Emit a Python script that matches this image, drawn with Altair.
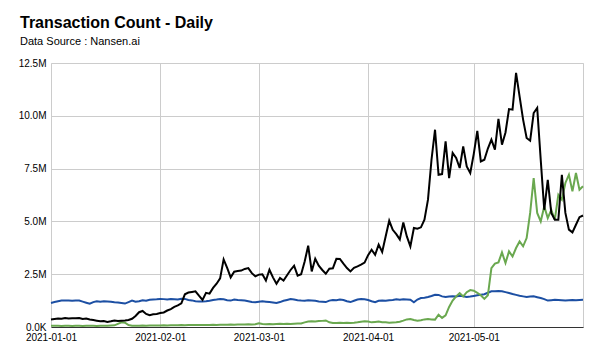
import altair as alt
import pandas as pd

# values in millions of transactions, daily from 2021-01-01
black_vals = [
    0.35, 0.38, 0.40, 0.39, 0.43, 0.40, 0.41, 0.42, 0.43, 0.38,
    0.40, 0.36, 0.33, 0.30, 0.27, 0.28, 0.24, 0.27, 0.31, 0.28,
    0.30, 0.31, 0.33, 0.39, 0.52, 0.70, 0.76, 0.62, 0.56, 0.60,
    0.62, 0.66, 0.69, 0.78, 0.85, 0.95, 1.02, 1.12, 1.55, 1.63,
    1.66, 1.69, 1.48, 1.28, 1.62, 1.58, 1.85, 2.05, 2.30, 3.20,
    2.80, 2.35, 2.62, 2.65, 2.67, 2.75, 2.79, 2.55, 2.40, 2.48,
    2.50, 2.20, 2.71, 2.35, 2.05, 2.32, 2.20, 2.45, 2.70, 2.90,
    2.43, 2.50, 3.10, 3.85, 2.63, 3.23, 2.90, 2.70, 2.52, 2.76,
    2.78, 3.23, 3.22, 3.00, 2.79, 2.63, 2.80, 2.87, 2.95, 3.05,
    3.40, 3.66, 3.42, 3.90, 3.55, 4.30, 5.03, 4.60, 4.40, 4.15,
    4.95, 4.29, 3.82, 4.69, 4.65, 4.72, 5.08, 6.03, 7.92, 9.34,
    7.21, 7.24, 8.79, 7.05, 8.24, 8.00, 7.53, 8.55, 7.60, 7.29,
    8.20, 9.29, 7.84, 7.92, 8.45, 8.87, 8.40, 9.85, 8.63, 9.21,
    10.32, 10.29, 12.03, 10.92, 9.82, 8.95, 8.82, 10.13, 10.37, 7.92,
    5.55, 6.97, 5.40, 5.08, 5.08, 7.21, 5.40, 4.61, 4.48, 4.84,
    5.20, 5.28,
]

green_vals = [
    0.06, 0.06, 0.06, 0.05, 0.06, 0.06, 0.05, 0.06, 0.06, 0.05,
    0.06, 0.06, 0.06, 0.05, 0.06, 0.06, 0.06, 0.07, 0.08, 0.15,
    0.22, 0.20, 0.09, 0.06, 0.06, 0.06, 0.07, 0.06, 0.07, 0.07,
    0.07, 0.07, 0.08, 0.07, 0.08, 0.08, 0.08, 0.09, 0.08, 0.09,
    0.09, 0.09, 0.10, 0.09, 0.10, 0.10, 0.11, 0.10, 0.11, 0.11,
    0.11, 0.12, 0.11, 0.12, 0.12, 0.12, 0.13, 0.12, 0.13, 0.18,
    0.14, 0.13, 0.14, 0.13, 0.14, 0.15, 0.14, 0.15, 0.14, 0.15,
    0.16, 0.17, 0.22, 0.26, 0.27, 0.26, 0.28, 0.29, 0.31, 0.22,
    0.19, 0.19, 0.20, 0.19, 0.20, 0.19, 0.20, 0.22, 0.25, 0.27,
    0.26, 0.22, 0.24, 0.26, 0.23, 0.22, 0.20, 0.21, 0.22, 0.25,
    0.30, 0.36, 0.38, 0.33, 0.30, 0.32, 0.36, 0.38, 0.36, 0.35,
    0.58, 0.43, 0.55, 0.95, 1.25, 1.45, 1.60, 1.45, 1.65, 1.75,
    1.72, 1.62, 1.50, 1.33, 1.50, 2.79, 3.00, 3.06, 3.53, 3.03,
    3.58, 3.34, 3.74, 4.05, 3.82, 4.21, 5.40, 7.05, 5.40, 5.00,
    5.71, 5.16, 5.55, 5.08, 6.26, 6.03, 6.82, 7.21, 6.42, 7.29,
    6.50, 6.66,
]

blue_vals = [
    1.14, 1.18, 1.22, 1.25, 1.26, 1.25, 1.24, 1.26, 1.25, 1.20,
    1.15, 1.10, 1.18, 1.22, 1.20, 1.22, 1.21, 1.20, 1.17, 1.16,
    1.14, 1.11, 1.18, 1.25, 1.20, 1.22, 1.27, 1.24, 1.29, 1.30,
    1.31, 1.33, 1.32, 1.30, 1.32, 1.31, 1.30, 1.34, 1.33, 1.28,
    1.26, 1.22, 1.21, 1.21, 1.22, 1.24, 1.28, 1.30, 1.33, 1.31,
    1.27, 1.25, 1.30, 1.28, 1.27, 1.25, 1.22, 1.18, 1.17, 1.20,
    1.22, 1.20, 1.18, 1.16, 1.14, 1.18, 1.24, 1.28, 1.32, 1.30,
    1.27, 1.25, 1.24, 1.27, 1.26, 1.24, 1.21, 1.20, 1.18, 1.25,
    1.28, 1.27, 1.30, 1.28, 1.22, 1.18, 1.24, 1.30, 1.32, 1.31,
    1.28, 1.22, 1.17, 1.24, 1.26, 1.24, 1.27, 1.28, 1.31, 1.29,
    1.31, 1.30, 1.29, 1.17, 1.30, 1.37, 1.39, 1.42, 1.47, 1.53,
    1.52, 1.45, 1.42, 1.44, 1.46, 1.45, 1.48, 1.46, 1.42, 1.44,
    1.47, 1.50, 1.53, 1.55, 1.62, 1.69, 1.69, 1.70, 1.69, 1.65,
    1.61, 1.56, 1.52, 1.48, 1.45, 1.42, 1.44, 1.45, 1.41, 1.37,
    1.32, 1.25, 1.27, 1.29, 1.28, 1.27, 1.26, 1.27, 1.28, 1.27,
    1.28, 1.29,
]

series_names = ["Series C", "Series B", "Series A"]  # blue, green, black (draw order)
series_colors = ["#1c4fa3", "#6aa84f", "#000000"]

dates = pd.date_range("2021-01-01", periods=len(black_vals)).strftime("%Y-%m-%d")

rows = []
for k, (name, vals) in enumerate(zip(series_names, [blue_vals, green_vals, black_vals])):
    for d, v in zip(dates, vals):
        rows.append({"date": d, "value": v, "series": name, "order": k})
df = pd.DataFrame(rows)

font = "Liberation Sans"

month_ticks = [alt.DateTime(year=2021, month=m, date=1, utc=True) for m in range(1, 7)]

x = alt.X(
    "date:T",
    scale=alt.Scale(
        type="utc",
        domain=[alt.DateTime(year=2021, month=1, date=1, utc=True),
                alt.DateTime(year=2021, month=6, date=1, utc=True)],
        nice=False,
    ),
    axis=alt.Axis(
        title=None,
        values=month_ticks,
        labelExpr="utcmonth(datum.value) == 5 ? '' : utcFormat(datum.value, '%Y-%m-%d')",
        grid=True,
        gridColor="#cccccc",
        ticks=False,
        tickSize=0,
        labelPadding=5,
        domainColor="#333333",
        labelFont=font,
        labelFontSize=10,
        labelColor="#000000",
        labelAlign="center",
    ),
)

y = alt.Y(
    "value:Q",
    scale=alt.Scale(domain=[0, 12.5], nice=False),
    axis=alt.Axis(
        title=None,
        values=[0, 2.5, 5, 7.5, 10, 12.5],
        labelExpr="datum.value == 0 ? '0.0K' : format(datum.value, '.1f') + 'M'",
        grid=True,
        gridColor="#cccccc",
        ticks=False,
        tickSize=0,
        domain=False,
        labelPadding=5,
        labelFont=font,
        labelFontSize=10,
        labelColor="#000000",
    ),
)

chart = (
    alt.Chart(df)
    .mark_line(strokeWidth=2, interpolate="linear")
    .encode(
        x=x,
        y=y,
        color=alt.Color("series:N", scale=alt.Scale(domain=series_names, range=series_colors), legend=None),
        order=alt.Order("order:Q"),
        strokeWidth=alt.StrokeWidth("series:N", scale=alt.Scale(domain=series_names, range=[2, 1.6, 2]), legend=None),
    )
    .properties(
        width=532,
        height=264,
        title=alt.TitleParams(
            text="Transaction Count - Daily",
            subtitle="Data Source : Nansen.ai",
            anchor="start",
            frame="group",
            dx=-31,
            font=font,
            fontSize=16,
            fontWeight="bold",
            color="#000000",
            subtitleFont=font,
            subtitleFontSize=11,
            subtitleColor="#000000",
            subtitlePadding=5,
            offset=11,
        ),
        autosize=alt.AutoSizeParams(type="none"),
        padding={"left": 51, "top": 63, "right": 17, "bottom": 26},
    )
    .configure_view(stroke=None)
    .configure(background="#ffffff")
)

chart.save("out.html", embed_options={"renderer": "svg", "actions": False})
